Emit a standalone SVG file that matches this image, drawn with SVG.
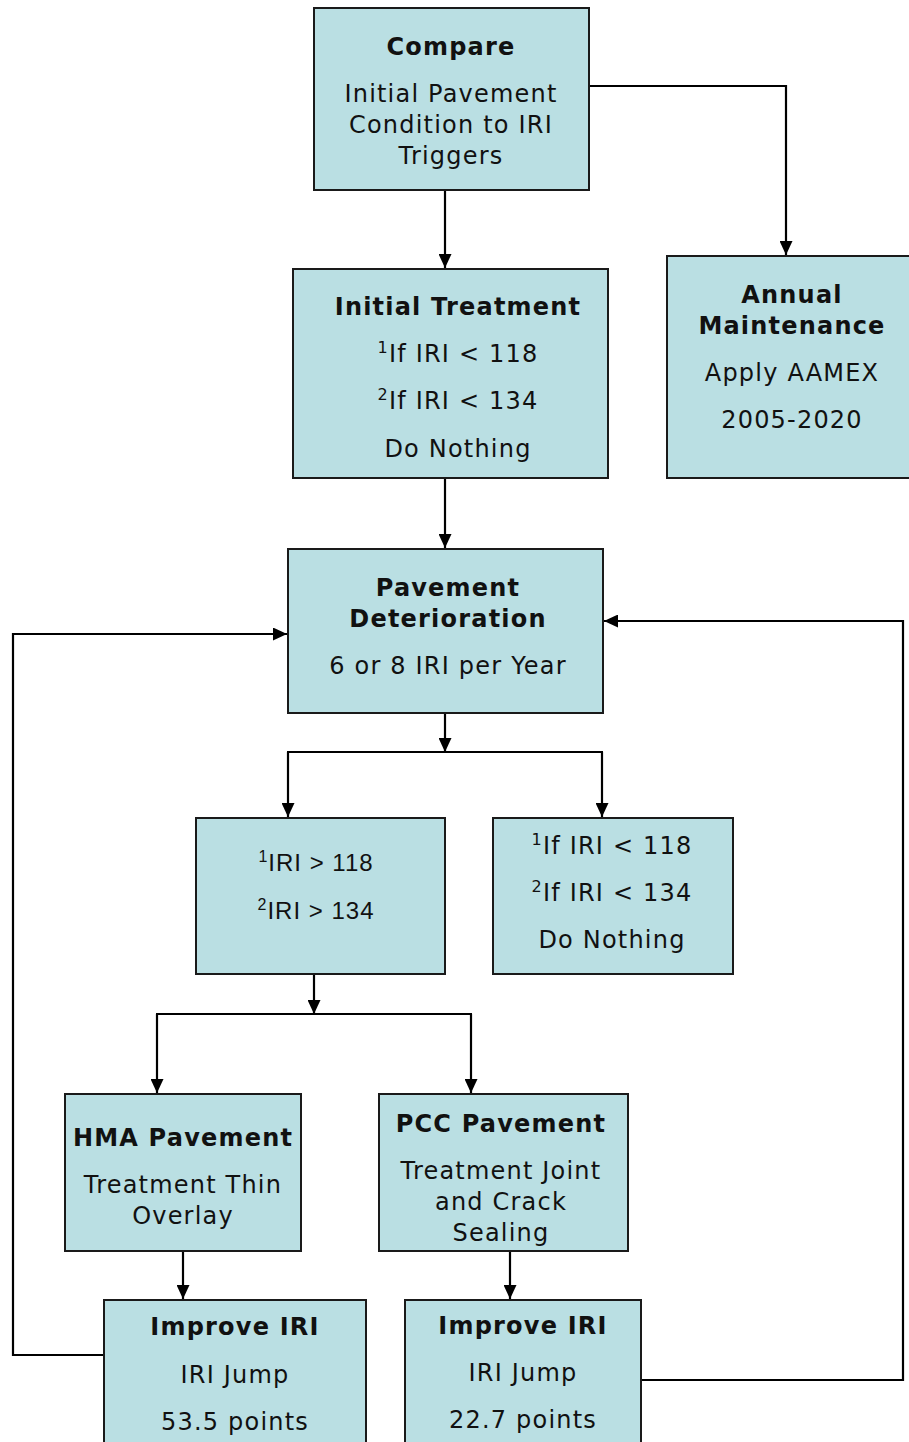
<svg xmlns="http://www.w3.org/2000/svg" width="909" height="1442" viewBox="0 0 909 1442">
<defs>
<marker id="ah" markerUnits="userSpaceOnUse" markerWidth="15" markerHeight="13" refX="14" refY="6.5" orient="auto">
<path d="M0,0 L14,6.5 L0,13 Z" fill="#000"/>
</marker>
<style>
.box{fill:#BADFE3;stroke:#1a1a1a;stroke-width:2}
.t{font-family:"DejaVu Sans",Verdana,sans-serif;font-size:24px;fill:#111;text-anchor:middle;letter-spacing:1.2px}
.b{font-weight:bold}
.a{font-family:"Liberation Sans",Arial,sans-serif;font-size:24px;fill:#111;text-anchor:middle;letter-spacing:1px}
.c{fill:none;stroke:#000;stroke-width:2.2}
</style>
</defs>
<rect width="909" height="1442" fill="#fff"/>
<g id="connectors">
<path class="c" d="M445,190 V268" marker-end="url(#ah)"/>
<path class="c" d="M589,86 H786 V255" marker-end="url(#ah)"/>
<path class="c" d="M445,478 V548" marker-end="url(#ah)"/>
<path class="c" d="M445,713 V752" marker-end="url(#ah)"/>
<path class="c" d="M287,752 H603"/>
<path class="c" d="M288,752 V817" marker-end="url(#ah)"/>
<path class="c" d="M602,752 V817" marker-end="url(#ah)"/>
<path class="c" d="M314,974 V1014" marker-end="url(#ah)"/>
<path class="c" d="M156,1014 H472"/>
<path class="c" d="M157,1014 V1093" marker-end="url(#ah)"/>
<path class="c" d="M471,1014 V1093" marker-end="url(#ah)"/>
<path class="c" d="M183,1251 V1299" marker-end="url(#ah)"/>
<path class="c" d="M510,1251 V1299" marker-end="url(#ah)"/>
<path class="c" d="M104,1355 H13 V634 H287" marker-end="url(#ah)"/>
<path class="c" d="M641,1380 H903 V621 H604" marker-end="url(#ah)"/>
</g>
<g id="compare">
<rect class="box" x="314" y="8" width="275" height="182"/>
<text class="t b" x="451" y="55">Compare</text>
<text class="t" x="451" y="102">Initial Pavement</text>
<text class="t" x="451" y="133">Condition to IRI</text>
<text class="t" x="451" y="164">Triggers</text>
</g>
<g id="initial-treatment">
<rect class="box" x="293" y="269" width="315" height="209"/>
<text class="t b" x="458" y="315">Initial Treatment</text>
<text class="t" x="458" y="362"><tspan font-size="16" dy="-9">1</tspan><tspan dy="9">If IRI &lt; 118</tspan></text>
<text class="t" x="458" y="409"><tspan font-size="16" dy="-9">2</tspan><tspan dy="9">If IRI &lt; 134</tspan></text>
<text class="t" x="458" y="457">Do Nothing</text>
</g>
<g id="annual-maintenance">
<rect class="box" x="667" y="256" width="253" height="222"/>
<text class="t b" x="792" y="303">Annual</text>
<text class="t b" x="792" y="334">Maintenance</text>
<text class="t" x="792" y="381">Apply AAMEX</text>
<text class="t" x="792" y="428">2005-2020</text>
</g>
<g id="pavement-deterioration">
<rect class="box" x="288" y="549" width="315" height="164"/>
<text class="t b" x="448" y="596">Pavement</text>
<text class="t b" x="448" y="627">Deterioration</text>
<text class="t" x="448" y="674">6 or 8 IRI per Year</text>
</g>
<g id="iri-above">
<rect class="box" x="196" y="818" width="249" height="156"/>
<text class="a" x="316" y="871"><tspan font-size="16" dy="-9">1</tspan><tspan dy="9">IRI &gt; 118</tspan></text>
<text class="a" x="316" y="919"><tspan font-size="16" dy="-9">2</tspan><tspan dy="9">IRI &gt; 134</tspan></text>
</g>
<g id="iri-below">
<rect class="box" x="493" y="818" width="240" height="156"/>
<text class="t" x="612" y="854"><tspan font-size="16" dy="-9">1</tspan><tspan dy="9">If IRI &lt; 118</tspan></text>
<text class="t" x="612" y="901"><tspan font-size="16" dy="-9">2</tspan><tspan dy="9">If IRI &lt; 134</tspan></text>
<text class="t" x="612" y="948">Do Nothing</text>
</g>
<g id="hma">
<rect class="box" x="65" y="1094" width="236" height="157"/>
<text class="t b" x="183" y="1146" letter-spacing="0.5">HMA Pavement</text>
<text class="t" x="183" y="1193">Treatment Thin</text>
<text class="t" x="183" y="1224">Overlay</text>
</g>
<g id="pcc">
<rect class="box" x="379" y="1094" width="249" height="157"/>
<text class="t b" x="501" y="1132" letter-spacing="0.5">PCC Pavement</text>
<text class="t" x="501" y="1179">Treatment Joint</text>
<text class="t" x="501" y="1210">and Crack</text>
<text class="t" x="501" y="1241">Sealing</text>
</g>
<g id="improve-left">
<rect class="box" x="104" y="1300" width="262" height="160"/>
<text class="t b" x="235" y="1335">Improve IRI</text>
<text class="t" x="235" y="1383">IRI Jump</text>
<text class="t" x="235" y="1430">53.5 points</text>
</g>
<g id="improve-right">
<rect class="box" x="405" y="1300" width="236" height="160"/>
<text class="t b" x="523" y="1334">Improve IRI</text>
<text class="t" x="523" y="1381">IRI Jump</text>
<text class="t" x="523" y="1428">22.7 points</text>
</g>
</svg>
